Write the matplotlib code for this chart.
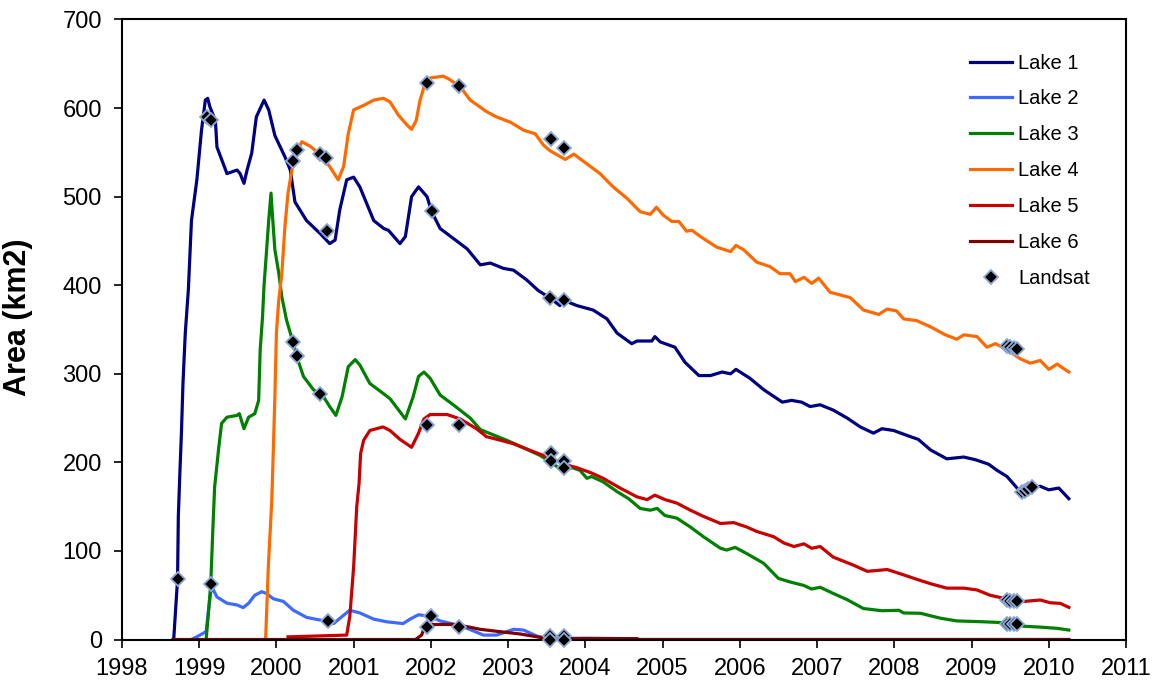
import matplotlib
matplotlib.use("Agg")
import matplotlib.pyplot as plt

plt.rcParams['font.family'] = ['Liberation Sans', 'DejaVu Sans']

# Lake area series (decimal year, km2)
lake1_t = [1998.67, 1998.72, 1998.73, 1998.75, 1998.77, 1998.79, 1998.82, 1998.86,
           1998.90, 1998.97, 1999.03, 1999.08, 1999.11, 1999.14, 1999.21, 1999.23,
           1999.36, 1999.49, 1999.53, 1999.58, 1999.62, 1999.68, 1999.74, 1999.84,
           1999.90, 1999.98, 2000.11, 2000.18, 2000.24, 2000.39, 2000.57, 2000.69,
           2000.76, 2000.82, 2000.91, 2001.00, 2001.08, 2001.26, 2001.39, 2001.45,
           2001.60, 2001.67, 2001.75, 2001.84, 2001.95, 2002.01, 2002.12, 2002.47,
           2002.64, 2002.77, 2002.94, 2003.07, 2003.24, 2003.39, 2003.535, 2003.67,
           2003.72, 2003.89, 2004.10, 2004.28, 2004.41, 2004.60, 2004.67, 2004.86,
           2004.90, 2004.97, 2005.16, 2005.29, 2005.47, 2005.62, 2005.77, 2005.88,
           2005.95, 2006.13, 2006.31, 2006.55, 2006.67, 2006.80, 2006.91, 2007.04,
           2007.21, 2007.39, 2007.56, 2007.73, 2007.84, 2007.99, 2008.21, 2008.31,
           2008.47, 2008.68, 2008.90, 2009.05, 2009.22, 2009.33, 2009.46, 2009.61,
           2009.78, 2009.89, 2010.00, 2010.13, 2010.26]
lake1_a = [0, 68, 139, 188, 233, 289, 346, 395,
           473, 519, 575, 609, 611, 601, 586, 556,
           526, 530, 526, 515, 530, 549, 590, 609,
           598, 569, 545, 530, 494, 473, 458, 447,
           451, 485, 519, 522, 511, 473, 464, 462,
           447, 455, 500, 511, 500, 483, 464, 441,
           423, 425, 419, 417, 406, 394, 386, 377,
           383, 377, 372, 362, 346, 334, 337, 337,
           342, 336, 330, 313, 298, 298, 302, 300,
           305, 295, 282, 268, 270, 268, 263, 265,
           259, 250, 240, 233, 238, 236, 229, 226,
           214, 204, 206, 203, 198, 191, 184, 169,
           172, 173, 169, 171, 159]

lake2_t = [1998.90, 1999.01, 1999.09, 1999.12, 1999.16, 1999.23, 1999.36, 1999.49,
           1999.57, 1999.64, 1999.72, 1999.81, 1999.87, 1999.96, 2000.09, 2000.22,
           2000.39, 2000.565, 2000.74, 2000.85, 2000.95, 2001.08, 2001.26, 2001.43,
           2001.64, 2001.73, 2001.84, 2001.99, 2002.12, 2002.29, 2002.47, 2002.68,
           2002.85, 2003.07, 2003.20, 2003.37, 2003.50, 2004.00, 2004.60, 2004.68,
           2010.26]
lake2_a = [0, 5, 9, 33, 60, 48, 41, 39,
           36, 41, 50, 54, 52, 46, 43, 33,
           25, 22, 18, 26, 33, 30, 23, 20,
           18, 23, 28, 26, 21, 17.5, 12.6, 5,
           5, 11.5, 10.7, 4, 1, 1.5, 1, 0,
           0]

lake3_t = [1999.09, 1999.12, 1999.15, 1999.175, 1999.20, 1999.25, 1999.29, 1999.36,
           1999.49, 1999.52, 1999.58, 1999.64, 1999.72, 1999.77, 1999.79, 1999.82,
           1999.84, 1999.87, 1999.90, 1999.93, 1999.95, 1999.98, 2000.03, 2000.07,
           2000.13, 2000.20, 2000.28, 2000.35, 2000.48, 2000.61, 2000.69, 2000.77,
           2000.85, 2000.93, 2001.02, 2001.08, 2001.21, 2001.38, 2001.47, 2001.67,
           2001.77, 2001.84, 2001.91, 2001.99, 2002.12, 2002.29, 2002.51, 2002.64,
           2002.81, 2002.98, 2003.16, 2003.41, 2003.54, 2003.70, 2003.83, 2003.93,
           2004.02, 2004.08, 2004.23, 2004.41, 2004.56, 2004.71, 2004.84, 2004.93,
           2005.03, 2005.185, 2005.36, 2005.53, 2005.75, 2005.83, 2005.94, 2006.09,
           2006.31, 2006.50, 2006.65, 2006.83, 2006.93, 2007.04, 2007.21, 2007.39,
           2007.60, 2007.84, 2008.06, 2008.12, 2008.34, 2008.60, 2008.81, 2009.16,
           2009.42, 2009.68, 2009.89, 2010.11, 2010.26]
lake3_a = [0, 30, 63, 120, 172, 214, 244, 251,
           253, 255, 238, 251, 255, 270, 327, 364,
           400, 436, 473, 504, 477, 440, 414, 387,
           361, 340, 315, 297, 282, 274, 263, 253,
           274, 308, 316, 310, 289, 278, 272, 249,
           274, 297, 302, 295, 276, 265, 250, 237,
           231, 225, 218, 208, 201, 191, 194, 191,
           182, 184, 178, 167, 159, 148, 146, 148,
           140, 137, 127, 116, 103, 101, 104, 97,
           86, 69, 65, 61, 57, 59, 52, 45,
           35, 32.5, 33, 30, 29.6, 24, 21, 20,
           19, 15, 14, 12.6, 10.7]

lake4_t = [1999.86, 1999.895, 1999.94, 1999.96, 1999.98, 2000.00, 2000.03, 2000.07,
           2000.11, 2000.15, 2000.20, 2000.26, 2000.33, 2000.435, 2000.565, 2000.69,
           2000.80, 2000.87, 2000.93, 2001.00, 2001.13, 2001.26, 2001.385, 2001.47,
           2001.58, 2001.69, 2001.75, 2001.81, 2001.86, 2001.925, 2001.99, 2002.16,
           2002.23, 2002.38, 2002.51, 2002.72, 2002.85, 2003.03, 2003.20, 2003.35,
           2003.46, 2003.54, 2003.74, 2003.85, 2004.02, 2004.19, 2004.36, 2004.54,
           2004.71, 2004.84, 2004.92, 2005.01, 2005.12, 2005.21, 2005.31, 2005.38,
           2005.49, 2005.70, 2005.88, 2005.95, 2006.05, 2006.22, 2006.39, 2006.52,
           2006.65, 2006.72, 2006.83, 2006.93, 2007.02, 2007.17, 2007.30, 2007.43,
           2007.60, 2007.80, 2007.905, 2008.03, 2008.12, 2008.29, 2008.47, 2008.66,
           2008.81, 2008.90, 2009.07, 2009.20, 2009.31, 2009.46, 2009.63, 2009.76,
           2009.89, 2010.00, 2010.11, 2010.19, 2010.26]
lake4_a = [0, 82, 157, 214, 274, 346, 383, 413,
           466, 504, 530, 550, 562, 557, 548, 534,
           519, 534, 571, 598, 603, 609, 611, 607,
           592, 581, 576, 586, 609, 628, 634, 636,
           633, 624, 609, 596, 590, 584, 575, 571,
           558, 552, 542, 548, 537, 526, 511, 498,
           483, 480, 488, 479, 472, 472, 461, 462,
           455, 443, 438, 445, 440, 426, 421, 413,
           413, 404, 409, 402, 408, 392, 389, 386,
           372, 367, 373, 371, 362, 360, 353, 344,
           339, 344, 342, 330, 334, 327, 317, 312,
           315, 305, 311, 306, 302]

lake5_t = [2000.15, 2000.91, 2000.95, 2001.00, 2001.04, 2001.07, 2001.09, 2001.13,
           2001.21, 2001.38, 2001.47, 2001.60, 2001.75, 2001.84, 2001.91, 2001.99,
           2002.21, 2002.38, 2002.59, 2002.72, 2002.90, 2003.07, 2003.33, 2003.54,
           2003.76, 2003.89, 2004.08, 2004.23, 2004.45, 2004.67, 2004.80, 2004.90,
           2005.03, 2005.185, 2005.36, 2005.53, 2005.75, 2005.92, 2006.09, 2006.22,
           2006.44, 2006.57, 2006.70, 2006.83, 2006.93, 2007.04, 2007.21, 2007.47,
           2007.65, 2007.78, 2007.91, 2008.12, 2008.29, 2008.47, 2008.68, 2008.90,
           2009.07, 2009.24, 2009.42, 2009.68, 2009.89, 2010.02, 2010.15, 2010.26]
lake5_a = [3, 5, 26, 82, 150, 176, 210, 225,
           236, 240, 236, 226, 217, 233, 249, 254,
           254, 249, 238, 229, 225, 221, 212, 205,
           197, 194, 188, 182, 171, 161, 158, 163,
           158, 154, 146, 139, 131, 132, 127, 122,
           116, 109, 105, 108, 103, 105, 93, 84,
           77, 78, 79, 73, 68, 63, 58, 58,
           56, 50, 46.5, 43, 44.6, 41.5, 40.8, 36.3]

lake6_t = [1998.66, 2001.80, 2001.88, 2001.92, 2002.01, 2002.29, 2002.47, 2002.64,
           2002.90, 2003.16, 2003.41, 2003.59, 2003.93, 2004.67, 2004.70, 2010.26]
lake6_a = [0, 0, 5, 14.5, 17, 17, 14.5, 11.5,
           8.8, 6.2, 2.5, 1, 1, 1, 0, 0]

landsat_t = [1998.72, 1999.10, 1999.15, 1999.15, 2000.22, 2000.27, 2000.22, 2000.27,
             2000.565, 2000.64, 2000.66, 2000.57, 2000.67, 2001.95, 2002.37, 2002.01,
             2001.955, 2002.37, 2002.00, 2001.955, 2002.37, 2003.55, 2003.73, 2003.54,
             2003.73, 2003.55, 2003.55, 2003.73, 2003.73, 2003.54, 2003.54, 2003.73,
             2003.73,
             2009.46, 2009.50, 2009.55, 2009.59,
             2009.46, 2009.50, 2009.55, 2009.59,
             2009.46, 2009.50, 2009.55, 2009.59,
             2009.65, 2009.69, 2009.73, 2009.78]
landsat_a = [68, 590, 587, 63, 540, 553, 336, 320,
             548, 544, 461, 277, 21, 628, 625, 484,
             242, 242, 26, 14.5, 14.5, 565, 555, 386,
             383, 211, 202, 202, 194, 4, 0, 4,
             0,
             331, 330, 329, 328,
             45, 44, 44, 43,
             18, 18, 17, 17,
             167, 168, 170, 172]

years = list(range(1998, 2012))

fig = plt.figure(figsize=(11.57, 6.91), dpi=100)
ax = fig.add_axes([0.1054, 0.0745, 0.8678, 0.8973])

ax.plot(lake1_t, lake1_a, color='#000080', lw=2.3, label='Lake 1')
ax.plot(lake2_t, lake2_a, color='#3d6bff', lw=2.3, label='Lake 2')
ax.plot(lake3_t, lake3_a, color='#008000', lw=2.3, label='Lake 3')
ax.plot(lake4_t, lake4_a, color='#ff6a00', lw=2.3, label='Lake 4')
ax.plot(lake5_t, lake5_a, color='#c80000', lw=2.3, label='Lake 5')
ax.plot(lake6_t, lake6_a, color='#800000', lw=2.3, label='Lake 6')
ax.plot(landsat_t, landsat_a, ls='none', marker='D', ms=7.5, mfc='black',
        mec='#8fa8d4', mew=1.3, label='Landsat', zorder=5, clip_on=False)

ax.set_xlim(1998, 2011)
ax.set_ylim(0, 700)
ax.set_xticks(years)
ax.set_yticks(range(0, 701, 100))
ax.tick_params(direction='out', length=5.5, width=1.2, labelsize=17)
ax.tick_params(axis='x', pad=8)
ax.tick_params(axis='y', pad=9)
for s in ax.spines.values():
    s.set_linewidth(1.5)
ax.set_ylabel('Area (km2)', fontsize=22, fontweight='bold')
ax.yaxis.set_label_coords(-0.0886, 0.52)

ax.legend(loc='upper left', bbox_to_anchor=(0.8367, 0.958), borderaxespad=0,
          frameon=False, fontsize=14.5, labelspacing=0.84, handlelength=2.1,
          handletextpad=0.3)

fig.savefig('out.png', dpi=100)
